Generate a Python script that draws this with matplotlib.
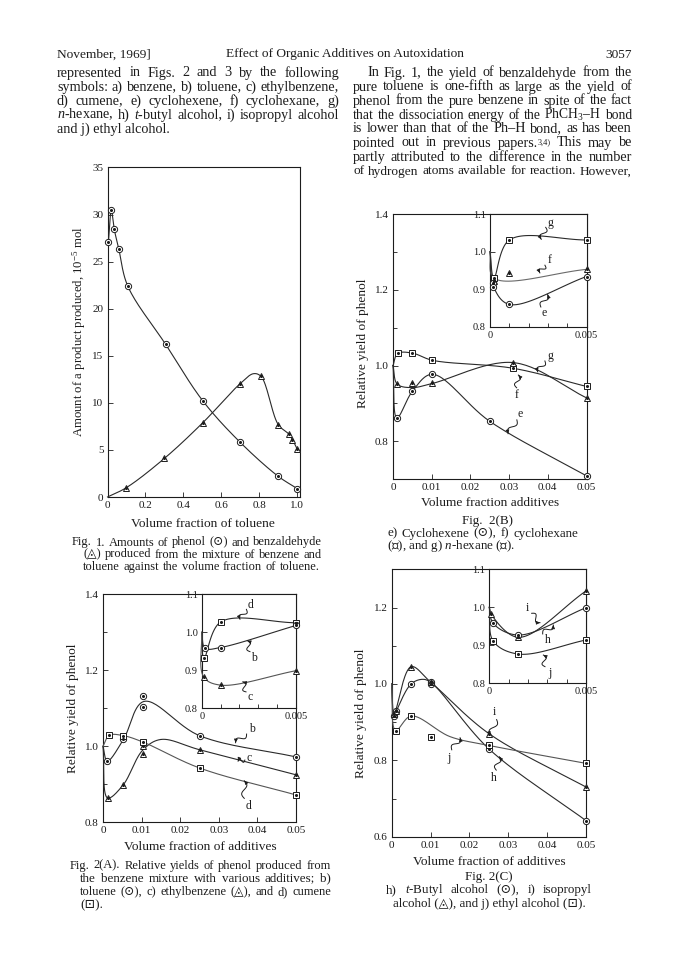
import numpy as np
import matplotlib
matplotlib.use('Agg')
import matplotlib.pyplot as plt

W, H = 688, 971
INK = '#1c1c1c'
plt.rcParams['font.family'] = ['Liberation Serif', 'DejaVu Serif', 'DejaVu Sans']
plt.rcParams['mathtext.fontset'] = 'custom'
plt.rcParams['mathtext.rm'] = 'Liberation Serif'
plt.rcParams['mathtext.it'] = 'Liberation Serif:italic'
plt.rcParams['mathtext.bf'] = 'Liberation Serif:bold'

# ---- Fig. 1: phenol (circles) and benzaldehyde (triangles) vs toluene fraction
f1_phenol_x = [0.005, 0.02, 0.035, 0.06, 0.107, 0.307, 0.503, 0.70, 0.90, 1.0]
f1_phenol_y = [27.1, 30.5, 28.5, 26.3, 22.4, 16.2, 10.2, 5.8, 2.2, 0.9]
f1_ald_x = [0.10, 0.30, 0.503, 0.70, 0.81, 0.90, 0.955, 0.975, 1.0]
f1_ald_y = [1.0, 4.1, 7.9, 12.05, 12.8, 7.7, 6.7, 6.1, 5.1]
f1_ald_curve_x = [0.0, 0.10, 0.30, 0.503, 0.70, 0.77, 0.81, 0.90, 0.955, 0.975, 1.0]
f1_ald_curve_y = [0.0, 1.0, 4.1, 7.9, 12.05, 13.1, 12.8, 7.7, 6.7, 6.1, 5.1]

# ---- Fig. 2(B) main: e) cyclohexene (o), f) cyclohexane (^), g) n-hexane (s)
b_sq_x = [0.0012, 0.005, 0.0102, 0.031, 0.05]
b_sq_y = [1.032, 1.033, 1.014, 0.993, 0.945]
b_tri_x = [0.0011, 0.005, 0.0102, 0.031, 0.05]
b_tri_y = [0.951, 0.954, 0.953, 1.007, 0.915]
b_cir_x = [0.001, 0.005, 0.0101, 0.025, 0.05]
b_cir_y = [0.862, 0.932, 0.977, 0.853, 0.709]
b_tri_curve_x = [0.0, 0.0011, 0.005, 0.0102, 0.031, 0.05]
b_tri_curve_y = [1.0, 0.951, 0.942, 0.953, 1.008, 0.915]
# inset (0 - 0.005)
bi_sq_x = [0.0002, 0.001, 0.005]
bi_sq_y = [0.930, 1.031, 1.031]
bi_tri_x = [0.0002, 0.001, 0.005]
bi_tri_y = [0.922, 0.944, 0.953]
bi_tri_curve_x = [0.0, 0.0002, 0.005]
bi_tri_curve_y = [1.0, 0.930, 0.953]
bi_cir_x = [0.00015, 0.00015, 0.001, 0.005]
bi_cir_y = [0.916, 0.907, 0.860, 0.934]
bi_cir_curve_x = [0.0, 0.0002, 0.001, 0.005]
bi_cir_curve_y = [1.0, 0.905, 0.860, 0.934]

# ---- Fig. 2(A) main: b) toluene (o), c) ethylbenzene (^), d) cumene (s)
a_cir_x = [0.0011, 0.0053, 0.0104, 0.0104, 0.025, 0.05]
a_cir_y = [0.961, 1.018, 1.103, 1.132, 1.028, 0.972]
a_cir_curve_x = [0.0, 0.0011, 0.0053, 0.0106, 0.025, 0.05]
a_cir_curve_y = [1.0, 0.961, 1.018, 1.118, 1.028, 0.972]
a_tri_x = [0.0012, 0.0052, 0.0103, 0.0103, 0.025, 0.05]
a_tri_y = [0.864, 0.898, 0.979, 1.0, 0.991, 0.925]
a_tri_curve_x = [0.0, 0.0012, 0.0052, 0.0103, 0.015, 0.025, 0.05]
a_tri_curve_y = [1.0, 0.864, 0.898, 0.990, 1.018, 0.991, 0.925]
a_sq_x = [0.0016, 0.0053, 0.0104, 0.025, 0.05]
a_sq_y = [1.029, 1.028, 1.011, 0.943, 0.872]
# inset
ai_sq_x = [0.00012, 0.001, 0.005]
ai_sq_y = [0.932, 1.027, 1.025]
ai_cir_x = [0.00018, 0.001, 0.005]
ai_cir_y = [0.958, 0.960, 1.018]
ai_tri_x = [0.0001, 0.001, 0.005]
ai_tri_y = [0.883, 0.861, 0.899]

# ---- Fig. 2(C) main: h) t-butyl alcohol (o), i) isopropyl alcohol (^), j) ethyl alcohol (s)
c_cir_x = [0.0005, 0.001, 0.005, 0.01, 0.0102, 0.025, 0.05]
c_cir_y = [0.915, 0.930, 1.0, 1.005, 1.0, 0.830, 0.642]
c_cir_curve_x = [0.0, 0.0005, 0.001, 0.005, 0.008, 0.0102, 0.025, 0.05]
c_cir_curve_y = [1.0, 0.915, 0.925, 1.0, 1.012, 1.003, 0.830, 0.642]
c_tri_x = [0.0005, 0.001, 0.005, 0.01, 0.025, 0.05]
c_tri_y = [0.920, 0.930, 1.045, 1.005, 0.870, 0.730]
c_sq_x = [0.001, 0.005, 0.01, 0.025, 0.05]
c_sq_y = [0.878, 0.916, 0.860, 0.839, 0.792]
c_sq_curve_x = [0.0, 0.001, 0.005, 0.015, 0.025, 0.05]
c_sq_curve_y = [1.0, 0.878, 0.916, 0.862, 0.839, 0.792]
# inset
ci_tri_x = [0.0001, 0.0015, 0.005]
ci_tri_y = [0.982, 0.921, 1.043]
ci_cir_x = [0.0002, 0.0015, 0.005]
ci_cir_y = [0.958, 0.927, 0.999]
ci_sq_x = [0.0002, 0.0015, 0.005]
ci_sq_y = [0.911, 0.877, 0.914]

fig = plt.figure(figsize=(W / 100, H / 100), dpi=100)
fig.patch.set_facecolor('white')
R = fig.canvas.get_renderer()


def put(x, y, s, size=9, ha='left', rot=0, va='baseline'):
    return fig.text(x / W, 1 - y / H, s, fontsize=size, ha=ha, va=va,
                    rotation=rot, color=INK)


def jline(x0, x1, y, s, size=9.0):
    # justified line of text between x0 and x1 (pixels);
    # "word^sup" puts a small raised note after the word
    words = s.split()
    while True:
        items = []
        for wd in words:
            base, _, sup = wd.partition('^')
            tb = put(x0, y, base, size)
            wb = tb.get_window_extent(R).width
            ts, wsup = None, 0
            if sup:
                ts = put(x0, y - 2.8, sup, size * 0.58)
                wsup = ts.get_window_extent(R).width
            items.append((tb, wb, ts, wsup))
        total = sum(i[1] + i[3] for i in items)
        gap = (x1 - x0 - total) / max(len(words) - 1, 1)
        if gap > 3.4 or size < 7:
            break
        for tb, _, ts, _ in items:
            tb.remove()
            if ts is not None:
                ts.remove()
        size -= 0.2
    x = x0
    for tb, wb, ts, wsup in items:
        tb.set_x(x / W)
        if ts is not None:
            ts.set_x((x + wb) / W)
        x += wb + wsup + gap


def axes_px(l, t, r, b):
    return fig.add_axes([l / W, 1 - b / H, (r - l) / W, (b - t) / H])


def style(ax, xt, xl, yt, yl, xlim, ylim, xminor=None, yminor=None, size=8):
    ax.set_xticks(xt)
    ax.set_xticklabels(xl)
    ax.set_yticks(yt)
    ax.set_yticklabels(yl)
    if xminor is not None:
        ax.set_xticks(xminor, minor=True)
    if yminor is not None:
        ax.set_yticks(yminor, minor=True)
    ax.set_xlim(*xlim)
    ax.set_ylim(*ylim)
    ax.tick_params(which='both', direction='in', width=0.6, color=INK,
                   labelsize=size, labelcolor=INK, pad=3)
    ax.tick_params(which='major', length=3.5)
    ax.tick_params(which='minor', length=3)
    for sp in ax.spines.values():
        sp.set_linewidth(0.8)
        sp.set_color(INK)
    ax.set_facecolor('white')


def smooth(ax, xs, ys, n=30, color='#2a2a2a', lw=0.8):
    # centripetal Catmull-Rom through the knots, computed in pixel space
    x0, x1 = ax.get_xlim()
    y0, y1 = ax.get_ylim()
    w, h = ax.bbox.width, ax.bbox.height
    P = np.column_stack([(np.asarray(xs, float) - x0) / (x1 - x0) * w,
                         (np.asarray(ys, float) - y0) / (y1 - y0) * h])
    if len(P) == 2:
        out = P
    else:
        P = np.vstack([2 * P[0] - P[1], P, 2 * P[-1] - P[-2]])
        segs = []
        for i in range(1, len(P) - 2):
            p0, p1, p2, p3 = P[i - 1], P[i], P[i + 1], P[i + 2]
            t0 = 0.0
            t1 = t0 + max(np.linalg.norm(p1 - p0), 1e-6) ** 0.5
            t2 = t1 + max(np.linalg.norm(p2 - p1), 1e-6) ** 0.5
            t3 = t2 + max(np.linalg.norm(p3 - p2), 1e-6) ** 0.5
            t = np.linspace(t1, t2, n)[:, None]
            a1 = (t1 - t) / (t1 - t0) * p0 + (t - t0) / (t1 - t0) * p1
            a2 = (t2 - t) / (t2 - t1) * p1 + (t - t1) / (t2 - t1) * p2
            a3 = (t3 - t) / (t3 - t2) * p2 + (t - t2) / (t3 - t2) * p3
            b1 = (t2 - t) / (t2 - t0) * a1 + (t - t0) / (t2 - t0) * a2
            b2 = (t3 - t) / (t3 - t1) * a2 + (t - t1) / (t3 - t1) * a3
            c = (t2 - t) / (t2 - t1) * b1 + (t - t1) / (t2 - t1) * b2
            segs.append(c)
        out = np.vstack(segs)
    ax.plot(out[:, 0] / w * (x1 - x0) + x0, out[:, 1] / h * (y1 - y0) + y0,
            color=color, lw=lw, zorder=3, clip_on=False)


def marks(ax, xs, ys, m, ms):
    ax.plot(xs, ys, ls='none', marker=m, ms=ms, mfc='white', mec=INK,
            mew=0.7, zorder=4, clip_on=False)
    ax.plot(xs, ys, ls='none', marker='o', ms=1.2, color=INK, zorder=5,
            clip_on=False)


def tag(ax, letter, txy, s, e, amp=2.6):
    ax.text(txy[0], txy[1], letter, transform=ax.transAxes, fontsize=8.5,
            ha='center', va='center', color=INK, zorder=6)
    w, h = ax.bbox.width, ax.bbox.height
    sx, sy, ex, ey = s[0] * w, s[1] * h, e[0] * w, e[1] * h
    d = np.hypot(ex - sx, ey - sy)
    ux, uy = (ex - sx) / d, (ey - sy) / d
    t = np.linspace(0, 1, 40)
    off = amp * np.sin(2 * np.pi * t)
    px = sx + ux * d * t - uy * off
    py = sy + uy * d * t + ux * off
    ax.plot(px / w, py / h, transform=ax.transAxes, color=INK, lw=0.7,
            zorder=6, clip_on=False)
    ax.annotate('', xy=(px[-1] / w, py[-1] / h), xytext=(px[-5] / w, py[-5] / h),
                xycoords='axes fraction',
                arrowprops=dict(arrowstyle='-|>', color=INK, lw=0.6,
                                mutation_scale=5, shrinkA=0, shrinkB=0))


main_xt = [0, 0.01, 0.02, 0.03, 0.04, 0.05]
main_xl = ['0', '0.01', '0.02', '0.03', '0.04', '0.05']
ins_y = [0.8, 0.9, 1.0, 1.1]
ins_yl = ['0.8', '0.9', '1.0', '1.1']
ins_minor = [0.001, 0.002, 0.003, 0.004]

# ---------------- Fig. 1
ax1 = axes_px(107.5, 167.5, 300, 497)
style(ax1, [0, 0.2, 0.4, 0.6, 0.8, 1.0], ['0', '0.2', '0.4', '0.6', '0.8', '1.0'],
      list(range(0, 36, 5)), [str(v) for v in range(0, 36, 5)], (0, 1.015), (0, 35))
smooth(ax1, f1_phenol_x, f1_phenol_y)
smooth(ax1, f1_ald_curve_x, f1_ald_curve_y)
marks(ax1, f1_phenol_x, f1_phenol_y, 'o', 4.5)
marks(ax1, f1_ald_x, f1_ald_y, '^', 5)
put(79, 332, 'Amount of a product produced, 10$^{-5}$ mol', 9.2, 'center', 90, 'center')
put(203, 527, 'Volume fraction of toluene', 9.6, 'center')

# ---------------- Fig. 2(B)
axB = axes_px(393, 214, 586.5, 479.3)
style(axB, main_xt, main_xl, [0.8, 1.0, 1.2, 1.4], ['0.8', '1.0', '1.2', '1.4'],
      (0, 0.05), (0.7, 1.4), yminor=[0.9, 1.1, 1.3])
smooth(axB, [0.0] + b_sq_x, [1.0] + b_sq_y)
smooth(axB, b_tri_curve_x, b_tri_curve_y)
smooth(axB, [0.0] + b_cir_x, [1.0] + b_cir_y)
marks(axB, b_sq_x, b_sq_y, 's', 4)
marks(axB, b_tri_x, b_tri_y, '^', 5)
marks(axB, b_cir_x, b_cir_y, 'o', 4.5)
tag(axB, 'g', (0.815, 0.465), (0.785, 0.446), (0.748, 0.405))
tag(axB, 'f', (0.639, 0.318), (0.639, 0.345), (0.648, 0.393))
tag(axB, 'e', (0.655, 0.245), (0.640, 0.224), (0.595, 0.172))

insB = axes_px(490, 214, 586.5, 327)
style(insB, [0, 0.005], ['0', '0.005'], ins_y, ins_yl, (0, 0.005), (0.8, 1.1),
      xminor=ins_minor, size=7.5)
smooth(insB, [0.0] + bi_sq_x, [1.0] + bi_sq_y)
smooth(insB, bi_tri_curve_x, bi_tri_curve_y, color='#6a6a6a')
smooth(insB, bi_cir_curve_x, bi_cir_curve_y)
marks(insB, bi_sq_x, bi_sq_y, 's', 4)
marks(insB, bi_tri_x, bi_tri_y, '^', 5)
marks(insB, bi_cir_x, bi_cir_y, 'o', 4.5)
tag(insB, 'g', (0.625, 0.92), (0.577, 0.882), (0.531, 0.776))
tag(insB, 'f', (0.615, 0.59), (0.569, 0.547), (0.517, 0.479))
tag(insB, 'e', (0.56, 0.12), (0.527, 0.177), (0.597, 0.287))

put(363, 343, 'Relative yield of phenol', 9.6, 'center', 90, 'center')
put(490, 506, 'Volume fraction additives', 9.6, 'center')

# ---------------- Fig. 2(A)
axA = axes_px(103, 594.3, 296, 822.3)
style(axA, main_xt, main_xl, [0.8, 1.0, 1.2, 1.4], ['0.8', '1.0', '1.2', '1.4'],
      (0, 0.05), (0.8, 1.4), yminor=[0.9, 1.1, 1.3])
smooth(axA, a_cir_curve_x, a_cir_curve_y)
smooth(axA, a_tri_curve_x, a_tri_curve_y)
smooth(axA, [0.0] + a_sq_x, [1.0] + a_sq_y, color='#555555')
marks(axA, a_cir_x, a_cir_y, 'o', 4.5)
marks(axA, a_tri_x, a_tri_y, '^', 5)
marks(axA, a_sq_x, a_sq_y, 's', 4)
tag(axA, 'b', (0.77, 0.41), (0.744, 0.387), (0.687, 0.349))
tag(axA, 'c', (0.757, 0.283), (0.735, 0.273), (0.700, 0.268), amp=2.0)
tag(axA, 'd', (0.752, 0.072), (0.732, 0.105), (0.732, 0.182))

insA = axes_px(201.7, 594.3, 296, 708.3)
style(insA, [0, 0.005], ['0', '0.005'], ins_y, ins_yl, (0, 0.005), (0.8, 1.1),
      xminor=ins_minor, size=7.5)
smooth(insA, [0.0] + ai_sq_x, [1.0] + ai_sq_y)
smooth(insA, [0.0] + ai_cir_x, [1.0] + ai_cir_y)
smooth(insA, [0.0] + ai_tri_x, [1.0] + ai_tri_y, color='#555555')
marks(insA, ai_sq_x, ai_sq_y, 's', 4)
marks(insA, ai_cir_x, ai_cir_y, 'o', 4.5)
marks(insA, ai_tri_x, ai_tri_y, '^', 5)
tag(insA, 'd', (0.52, 0.91), (0.474, 0.868), (0.406, 0.781))
tag(insA, 'b', (0.555, 0.445), (0.512, 0.497), (0.484, 0.593))
tag(insA, 'c', (0.51, 0.095), (0.470, 0.144), (0.435, 0.232))

put(73, 708, 'Relative yield of phenol', 9.6, 'center', 90, 'center')
put(200, 849.5, 'Volume fraction of additives', 9.6, 'center')

# ---------------- Fig. 2(C)
axC = axes_px(391.7, 569.3, 586, 836.7)
style(axC, main_xt, main_xl, [0.6, 0.8, 1.0, 1.2], ['0.6', '0.8', '1.0', '1.2'],
      (0, 0.05), (0.6, 1.3), yminor=[0.7, 0.9, 1.1])
smooth(axC, c_cir_curve_x, c_cir_curve_y)
smooth(axC, [0.0] + c_tri_x, [1.0] + c_tri_y)
smooth(axC, c_sq_curve_x, c_sq_curve_y, color='#555555')
marks(axC, c_cir_x, c_cir_y, 'o', 4.5)
marks(axC, c_tri_x, c_tri_y, '^', 5)
marks(axC, c_sq_x, c_sq_y, 's', 4)
tag(axC, 'i', (0.527, 0.465), (0.540, 0.438), (0.506, 0.379))
tag(axC, 'j', (0.293, 0.295), (0.309, 0.325), (0.352, 0.370))
tag(axC, 'h', (0.523, 0.218), (0.538, 0.249), (0.554, 0.299))

insC = axes_px(489.3, 569.3, 586, 683.3)
style(insC, [0, 0.005], ['0', '0.005'], ins_y, ins_yl, (0, 0.005), (0.8, 1.1),
      xminor=ins_minor, size=7.5)
smooth(insC, [0.0] + ci_tri_x, [1.0] + ci_tri_y)
smooth(insC, [0.0] + ci_cir_x, [1.0] + ci_cir_y)
smooth(insC, [0.0] + ci_sq_x, [1.0] + ci_sq_y)
marks(insC, ci_tri_x, ci_tri_y, '^', 5)
marks(insC, ci_cir_x, ci_cir_y, 'o', 4.5)
marks(insC, ci_sq_x, ci_sq_y, 's', 4)
tag(insC, 'i', (0.39, 0.66), (0.438, 0.614), (0.524, 0.532))
tag(insC, 'h', (0.60, 0.38), (0.552, 0.433), (0.662, 0.511))
tag(insC, 'j', (0.625, 0.09), (0.576, 0.146), (0.559, 0.248))

put(361, 713, 'Relative yield of phenol', 9.6, 'center', 90, 'center')
put(489, 864.5, 'Volume fraction of additives', 9.6, 'center')

# ---------------- page text
put(57, 57.5, 'November, 1969]', 9.6)
put(345, 57.5, 'Effect of Organic Additives on Autoxidation', 9.6, 'center')
put(632, 57.5, '3057', 9.6, 'right')

BODY = 10.2
jline(57, 339, 76.5, 'represented in Figs. 2 and 3 by the following', BODY)
jline(57, 339, 90.5, 'symbols: a) benzene, b) toluene, c) ethylbenzene,', BODY)
jline(57, 339, 104.5, 'd) cumene, e) cyclohexene, f) cyclohexane, g)', BODY)
jline(57, 339, 118.5, '$n$-hexane, h) $t$-butyl alcohol, i) isopropyl alcohol', BODY)
put(57, 132.5, 'and j) ethyl alcohol.', BODY)

jline(367, 632, 76.5, 'In Fig. 1, the yield of benzaldehyde from the', BODY)
jline(353, 632, 90.5, 'pure toluene is one-fifth as large as the yield of', BODY)
jline(353, 632, 104.5, 'phenol from the pure benzene in spite of the fact', BODY)
jline(353, 632, 118.5, 'that the dissociation energy of the PhCH$_3$\u2013H bond', BODY)
jline(353, 632, 132.5, 'is lower than that of the Ph\u2013H bond, as has been', BODY)
jline(353, 632, 146.5, 'pointed out in previous papers.^3,4) This may be', BODY)
jline(353, 632, 160.5, 'partly attributed to the difference in the number', BODY)
jline(353, 632, 174.5, 'of hydrogen atoms available for reaction. However,', BODY)

CAP = 9.4
jline(72, 322, 545.5, 'Fig. 1.\u2003 Amounts of phenol (\u2299) and benzaldehyde', CAP)
jline(83, 322, 557.5, '(\u25ec) produced from the mixture of benzene and', CAP)
jline(83, 320, 569.5, 'toluene against the volume fraction of toluene.', CAP)

put(487, 524, 'Fig.  2(B)', CAP, 'center')
jline(387, 578, 536.5, 'e) Cyclohexene (\u2299), f) cyclohexane', CAP)
put(387, 549, '(\u25ec), and g) $n$-hexane (\u22a1).', CAP)

jline(70, 331, 868.5, 'Fig. 2(A).\u2003 Relative yields of phenol produced from', CAP)
jline(80, 331, 881.5, 'the benzene mixture with various additives; b)', CAP)
jline(80, 331, 895, 'toluene (\u2299), c) ethylbenzene (\u25ec), and d) cumene', CAP)
put(80, 908, '(\u22a1).', CAP)

put(489, 879.5, 'Fig. 2(C)', CAP, 'center')
jline(386, 592, 893, 'h) $t$-Butyl alcohol (\u2299), i) isopropyl', CAP)
put(489, 906.5, 'alcohol (\u25ec), and j) ethyl alcohol (\u22a1).', CAP, 'center')

fig.savefig('out.png', dpi=100, facecolor='white')
